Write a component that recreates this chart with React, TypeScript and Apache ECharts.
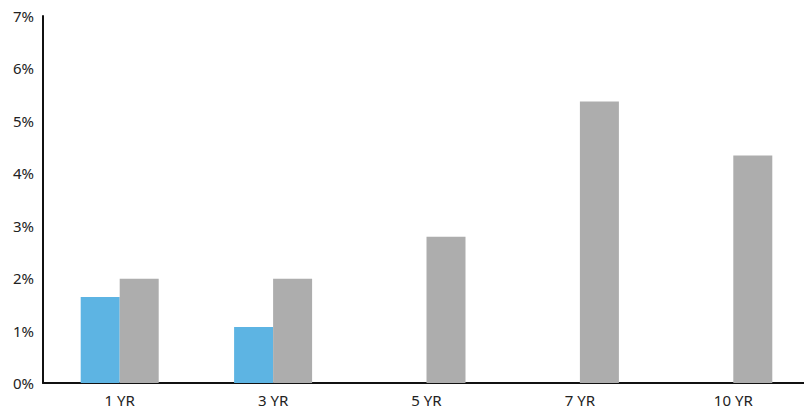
import React, { useEffect, useRef } from "react";
import * as echarts from "echarts";

const categories = ["1 YR", "3 YR", "5 YR", "7 YR", "10 YR"];
const blueValues: (number | null)[] = [1.64, 1.07, null, null, null];
const grayValues: number[] = [1.99, 1.99, 2.79, 5.37, 4.34];
const yTicks = [0, 1, 2, 3, 4, 5, 6, 7];

export default function App() {
  const ref = useRef<HTMLDivElement>(null);
  useEffect(() => {
    if (!ref.current) return;
    const chart = echarts.init(ref.current, null, { renderer: "svg" });
    chart.setOption({
      animation: false,
      grid: { left: 43, top: 16, bottom: 26, right: 0, containLabel: false },
      xAxis: {
        type: "category",
        data: categories,
        axisLine: { show: true, lineStyle: { color: "#111", width: 2 } },
        axisTick: { show: false },
        axisLabel: { color: "#222", fontSize: 15, margin: 9, fontFamily: "Noto Sans" },
      },
      yAxis: {
        type: "value",
        min: yTicks[0],
        max: yTicks[yTicks.length - 1],
        interval: 1,
        axisLine: { show: true, lineStyle: { color: "#111", width: 2 } },
        axisTick: { show: false },
        splitLine: { show: false },
        axisLabel: {
          color: "#222",
          fontSize: 15,
          margin: 9,
          fontFamily: "Noto Sans",
          formatter: (v: number) => `${v}%`,
        },
      },
      series: [
        {
          type: "bar",
          data: blueValues,
          barWidth: 39,
          barGap: "0%",
          itemStyle: { color: "#5DB4E3" },
        },
        {
          type: "bar",
          data: grayValues,
          barWidth: 39,
          barGap: "0%",
          itemStyle: { color: "#ADADAD" },
        },
      ],
    });
    return () => chart.dispose();
  }, []);
  return (
    <div style={{ position: "absolute", left: 0, top: 0, width: 804, height: 409, overflow: "hidden" }}>
      <div ref={ref} style={{ width: 810, height: 409 }} />
    </div>
  );
}
